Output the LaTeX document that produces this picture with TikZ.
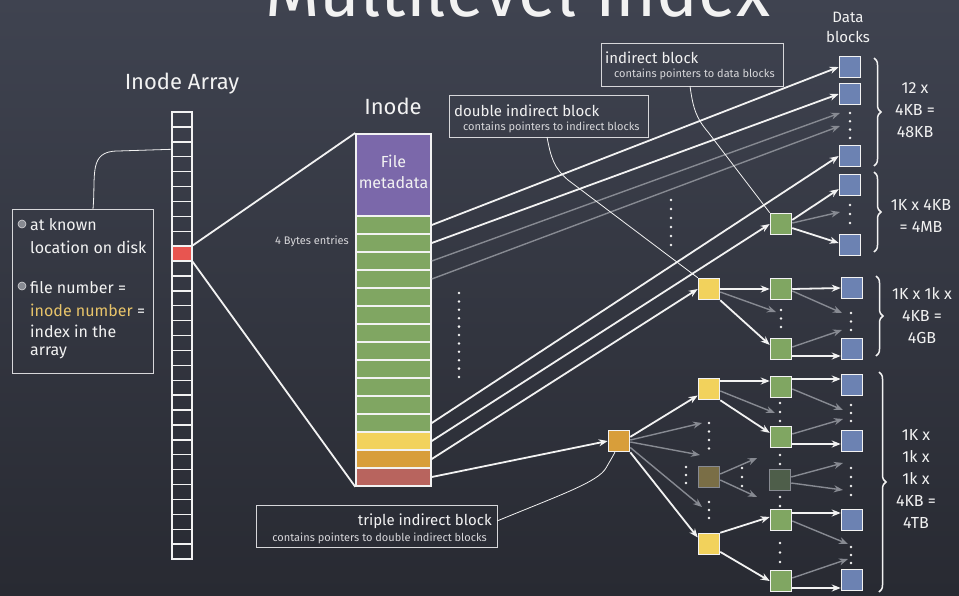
\documentclass[tikz,border=0pt]{standalone}
\usepackage{fontspec}
\setmainfont{Fira Sans}
\usetikzlibrary{arrows.meta,decorations.pathreplacing,calc}

\definecolor{boardtop}{RGB}{63,67,80}
\definecolor{boardbot}{RGB}{40,42,50}
\definecolor{chalk}{RGB}{242,242,242}
\definecolor{softchalk}{RGB}{215,215,218}
\definecolor{dimchalk}{RGB}{135,138,146}
\definecolor{meta}{RGB}{123,104,170}
\definecolor{ptr}{RGB}{128,166,98}
\definecolor{ind1}{RGB}{242,210,92}
\definecolor{ind2}{RGB}{216,158,58}
\definecolor{ind3}{RGB}{184,100,94}
\definecolor{hot}{RGB}{232,85,80}
\definecolor{datab}{RGB}{108,130,178}
\definecolor{gold}{RGB}{232,196,106}
\definecolor{fadeY}{RGB}{122,110,70}
\definecolor{fadeG}{RGB}{78,94,74}

\tikzset{
  chalkline/.style={draw=chalk,line width=1.8pt},
  ptrarrow/.style={chalkline,-{Stealth[length=9pt,width=7pt]}},
  dimarrow/.style={draw=dimchalk,line width=1.4pt,-{Stealth[length=9pt,width=7pt]}},
  leader/.style={draw=chalk,line width=0.8pt},
  labelbox/.style={draw=softchalk,line width=1pt},
  cell/.style={draw=chalk,line width=1.3pt,minimum width=20pt,minimum height=15pt,inner sep=0pt},
  slot/.style={draw=chalk,line width=1.5pt,minimum width=75pt,minimum height=18pt,inner sep=0pt},
  blockbox/.style={draw=chalk,line width=1.5pt,minimum size=21pt,inner sep=0pt},
  datablk/.style={blockbox,fill=datab},
  ptrblk/.style={blockbox,fill=ptr},
  dblblk/.style={blockbox,fill=ind1},
  trpblk/.style={blockbox,fill=ind2},
  ghostY/.style={blockbox,draw=dimchalk,fill=fadeY},
  ghostG/.style={blockbox,draw=dimchalk,fill=fadeG},
  txt/.style={text=chalk,inner sep=0pt},
  big/.style={txt,font=\fontsize{22}{22}\selectfont},
  mid/.style={txt,font=\fontsize{15}{22}\selectfont},
  notefont/.style={txt,font=\fontsize{16}{22}\selectfont},
  sizefont/.style={txt,align=center,font=\fontsize{16}{22}\selectfont},
  small/.style={txt,text=softchalk,font=\fontsize{11}{11}\selectfont},
  bullet/.style={circle,fill=dimchalk,draw=softchalk,line width=0.6pt,minimum size=8pt,inner sep=0pt},
  curly/.style={draw=chalk,line width=1.5pt,decorate,decoration={brace,amplitude=7pt}}
}

\newcommand\dotrun[2]{\foreach \dy in {#2}{\fill[chalk] (#1,\dy) circle (1.4pt);}}

\begin{document}
\begin{tikzpicture}[x=1pt,y=-1pt]
\useasboundingbox (0,0) rectangle (959,595);
\shade[top color=boardtop,bottom color=boardbot] (0,0) rectangle (959,595);

% title
\node[txt,anchor=base west,font=\fontsize{70}{70}\selectfont] (title) at (265,16) {Multilevel Index};

% inode array
\node[big] (arrlbl) at (182,84) {Inode Array};
\foreach \i in {0,...,29}{
  \ifnum\i=9 \def\cf{hot}\else\def\cf{none}\fi
  \node[cell,fill=\cf] (a\i) at (182,{119.5+14.9*\i}) {};
}

% note box
\node[draw=softchalk,line width=1pt,minimum width=141pt,minimum height=164pt,anchor=north west,inner sep=0pt] (note) at (12,209) {};
\node[bullet] (b1) at (22,224) {};
\node[bullet] (b2) at (22,286) {};
\node[notefont,anchor=west] (n1) at (30,225) {at known};
\node[notefont,anchor=west] (n2) at (30,247) {location on disk};
\node[notefont,anchor=west] (n3) at (30,288) {file number =};
\node[notefont,anchor=west] (n4) at (30,310) {\textcolor{gold}{inode number} =};
\node[notefont,anchor=west] (n5) at (30,331) {index in the};
\node[notefont,anchor=west] (n6) at (30,353) {array};
\coordinate (notetop) at (93,209);
\draw[leader] (notetop) .. controls (96,175) and (88,151) .. (118,151) -- (a2.west);

% inode
\node[big] (inodelbl) at (393,106) {Inode};
\node[slot,fill=meta,minimum height=83pt,anchor=north] (meta) at (393.5,133) {};
\foreach \i in {0,...,11}{\node[slot,fill=ptr] (r\i) at (393.5,{225+18*\i}) {};}
\node[slot,fill=ind1] (rY) at (393.5,441) {};
\node[slot,fill=ind2] (rO) at (393.5,459) {};
\node[slot,fill=ind3] (rR) at (393.5,477) {};
\node[notefont] (fm1) at (393.5,161) {File};
\node[notefont] (fm2) at (393.5,183) {metadata};
\node[small,anchor=east] (bytes) at (349,241) {4 Bytes entries};

\draw[chalkline] (a9.north east) -- (meta.north west);
\draw[chalkline] (a9.south east) -- (rR.south west);

% data blocks
\node[txt,align=center,font=\fontsize{15}{20}\selectfont] (dlbl) at (848,27) {Data\\blocks};
\node[datablk] (d1) at (850,67) {};
\node[datablk] (d2) at (850,94) {};
\node[datablk] (d3) at (850,156) {};
\node[datablk] (d4) at (850,185) {};
\node[datablk] (d5) at (850,245) {};
\node[datablk] (d6) at (852,288) {};
\node[datablk] (d7) at (852,349) {};
\node[datablk] (d8) at (852,385) {};
\node[datablk] (d9) at (852,441) {};
\node[datablk] (d10) at (852,520) {};
\node[datablk] (d11) at (852,580) {};

% pointer blocks
\node[ptrblk] (g1) at (781,224) {};
\node[ptrblk] (g2) at (781,289) {};
\node[ptrblk] (g3) at (781,349) {};
\node[ptrblk] (g4) at (781,387) {};
\node[ptrblk] (g5) at (781,437) {};
\node[ghostG] (g6) at (780,480) {};
\node[ptrblk] (g7) at (781,520) {};
\node[ptrblk] (g8) at (781,581) {};
\node[dblblk] (y1) at (709,289) {};
\node[dblblk] (y2) at (709,389) {};
\node[ghostY] (y3) at (709,477) {};
\node[dblblk] (y4) at (709,544) {};
\node[trpblk] (o1) at (619,441) {};

% dangling arrow ends
\coordinate (e1) at (840,113);
\coordinate (e2) at (840,126);
\coordinate (e3) at (840,212);
\coordinate (e4) at (776,312);
\coordinate (e5) at (842,313);
\coordinate (e6) at (842,330);
\coordinate (e7) at (702,423);
\coordinate (e8) at (700,455);
\coordinate (e9) at (702,507);
\coordinate (e10) at (757,458);
\coordinate (e11) at (757,497);
\coordinate (e12) at (775,413);
\coordinate (e13) at (843,410);
\coordinate (e14) at (843,419);
\coordinate (e15) at (843,463);
\coordinate (e16) at (843,490);
\coordinate (e17) at (848,544);
\coordinate (e18) at (848,559);

% direct pointers
\draw[ptrarrow] (r0.east) -- (d1.west);
\draw[ptrarrow] (r1.east) -- (d2.west);
\draw[dimarrow] (r2.east) -- (e1);
\draw[dimarrow] (r3.east) -- (e2);
\draw[ptrarrow] (r11.east) -- (d3.west);
% indirect pointers
\draw[ptrarrow] (rY.east) -- (g1.west);
\draw[ptrarrow] (rO.east) -- (y1.west);
\draw[ptrarrow] (rR.east) -- (o1.west);

% single indirect
\draw[ptrarrow] (g1.20) -- (d4.200);
\draw[dimarrow] (g1.5) -- (e3);
\draw[ptrarrow] (g1.-20) -- (d5.170);

% double indirect
\draw[ptrarrow] (y1.east) -- (g2.west);
\draw[dimarrow] (y1.-15) -- (e4);
\draw[ptrarrow] (y1.south east) -- (g3.160);
\draw[ptrarrow] (g2.east) -- (d6.west);
\draw[dimarrow] (g2.-10) -- (e5);
\draw[dimarrow] (g3.10) -- (e6);
\draw[ptrarrow] ($(g3.east)+(0,7)$) -- ($(d7.west)+(0,7)$);

% triple indirect
\draw[ptrarrow] (o1.20) -- (y2.-150);
\draw[dimarrow] (o1.5) -- (e7);
\draw[dimarrow] (o1.-5) -- (e8);
\draw[dimarrow] (o1.-30) -- (e9);
\draw[ptrarrow] (o1.south east) -- (y4.150);
\draw[dimarrow] (y3.15) -- (e10);
\draw[dimarrow] (y3.-15) -- (e11);
\draw[ptrarrow] ($(y2.east)+(0,-8)$) -- ($(g4.west)+(0,-6)$);
\draw[dimarrow] (y2.-10) -- (e12);
\draw[ptrarrow] (y2.south east) -- (g5.160);
\draw[ptrarrow] ($(g4.east)+(0,-8)$) -- ($(d8.west)+(0,-6)$);
\draw[dimarrow] (g4.-10) -- (e13);
\draw[dimarrow] (g5.15) -- (e14);
\draw[ptrarrow] ($(g5.east)+(0,7)$) -- ($(d9.west)+(0,3)$);
\draw[dimarrow] (g6.15) -- (e15);
\draw[dimarrow] (g6.-15) -- (e16);
\draw[ptrarrow] (y4.north east) -- (g7.165);
\draw[ptrarrow] (y4.-35) -- (g8.west);
\draw[ptrarrow] ($(g7.east)+(0,-7)$) -- ($(d10.west)+(0,-7)$);
\draw[dimarrow] (g7.-5) -- (e17);
\draw[dimarrow] (g8.15) -- (e18);
\draw[ptrarrow] ($(g8.east)+(0,7)$) -- ($(d11.west)+(0,8)$);

% ellipses
\dotrun{459}{293,301.4,...,378}
\dotrun{671}{200,209,...,245}
\dotrun{850}{113,121.3,...,138}
\dotrun{850}{205,214,223}
\dotrun{781}{310,318.5,327}
\dotrun{851}{313,321.5,330}
\dotrun{780}{403,412,421}
\dotrun{780}{455,464}
\dotrun{780}{497,506}
\dotrun{780}{543,552.5,562}
\dotrun{851}{405,413,421}
\dotrun{851}{468,477,486,495}
\dotrun{851}{547,555,563}
\dotrun{709}{423,431.5,440,448.5}
\dotrun{709}{502,510,518}
\dotrun{686}{467,475,483}
\dotrun{742}{468,477,486}

% braces and sizes
\coordinate (k1a) at (874,58);  \coordinate (k1b) at (874,166);
\coordinate (k2a) at (874,172); \coordinate (k2b) at (874,252);
\coordinate (k3a) at (876,276); \coordinate (k3b) at (876,356);
\coordinate (k4a) at (879,372); \coordinate (k4b) at (879,592);
\draw[curly] (k1a) -- (k1b);
\draw[curly] (k2a) -- (k2b);
\draw[curly] (k3a) -- (k3b);
\draw[curly] (k4a) -- (k4b);
\node[sizefont] (s1) at (915,110) {12 x\\4KB =\\48KB};
\node[sizefont] (s2) at (921,216) {1K x 4KB\\= 4MB};
\node[sizefont] (s3) at (922,316) {1K x 1k x\\4KB =\\4GB};
\node[sizefont] (s4) at (916,479) {1K x\\1k x\\1k x\\4KB =\\4TB};

% explanatory boxes
\node[labelbox,minimum width=182pt,minimum height=43pt,anchor=north west,inner sep=0pt] (ibox) at (601,43) {};
\node[mid,anchor=west] (it1) at (605,58) {indirect block};
\node[small,anchor=west] (it2) at (614,74) {contains pointers to data blocks};
\node[labelbox,minimum width=199pt,minimum height=42pt,anchor=north west,inner sep=0pt] (dbox) at (449,95) {};
\node[mid,anchor=west] (dt1) at (454,111) {double indirect block};
\node[small,anchor=west] (dt2) at (463,127) {contains pointers to indirect blocks};
\node[labelbox,minimum width=241pt,minimum height=42pt,anchor=north west,inner sep=0pt] (tbox) at (256,505) {};
\node[mid,anchor=east] (tt1) at (492,521) {triple indirect block};
\node[small,anchor=east] (tt2) at (487,538) {contains pointers to double indirect blocks};

% leader lines from the boxes
\coordinate (ilead) at (690,86);
\coordinate (dlead) at (547,137);
\coordinate (tlead) at (497,521);
\draw[leader] (ilead) .. controls (693,108) and (696,118) .. (708,132) -- (g1.north west);
\draw[leader] (dlead) .. controls (551,158) and (554,168) .. (568,180) -- (y1.north west);
\draw[leader] (tlead) .. controls (560,495) and (598,482) .. (606,468) .. controls (610,461) and (613,456) .. (o1.-110);
\end{tikzpicture}
\end{document}
